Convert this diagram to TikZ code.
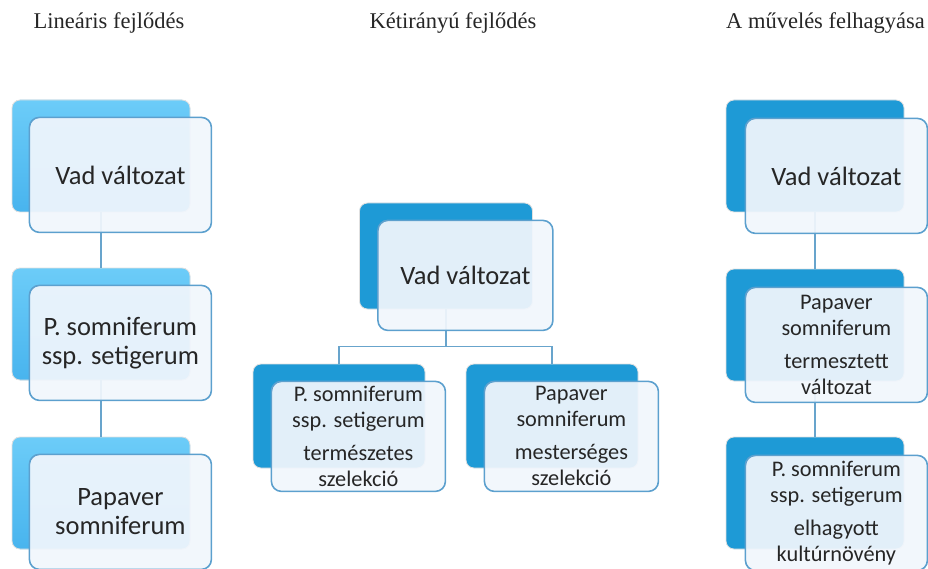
\documentclass[tikz,border=0pt]{standalone}
\usepackage{fontspec}
\setmainfont{Liberation Serif}
\setsansfont{Carlito}
\usetikzlibrary{positioning,calc}
\definecolor{kekSotet}{RGB}{30,154,214}
\definecolor{kekFelso}{RGB}{108,204,248}
\definecolor{kekAlso}{RGB}{72,180,238}
\definecolor{keretKek}{RGB}{92,160,206}
\definecolor{lapSzin}{RGB}{241,246,252}
\definecolor{vonalKek}{RGB}{104,164,204}
\tikzset{
  hatlap/.style={rectangle, draw=black!12, line width=0.8pt, fill=kekSotet,
                 rounded corners=8pt, minimum width=178pt, minimum height=112pt},
  hatlapvil/.style={hatlap, top color=kekFelso, bottom color=kekAlso},
  lap/.style={rectangle, draw=keretKek, line width=1.6pt, fill=lapSzin,
              fill opacity=0.93, text opacity=1, rounded corners=10pt,
              minimum width=182pt, minimum height=115pt, inner sep=1pt,
              align=center, text=black!85,
              font=\sffamily\fontsize{26.5}{29}\selectfont},
  kislap/.style={lap, font=\sffamily\fontsize{22.3}{26}\selectfont},
  cim/.style={font=\fontsize{22.5}{26}\selectfont, text=black!85},
  vonal/.style={draw=vonalKek, line width=1.5pt},
}
\begin{document}
\begin{tikzpicture}[x=1pt, y=-1pt]
  \useasboundingbox (0,0) rectangle (928,569);
  % cimek
  \node[cim] (cimBal) at (109,23) {Lineáris fejlődés};
  \node[cim] (cimKozep) at (453,23) {Kétirányú fejlődés};
  \node[cim, anchor=east, inner sep=1pt] (cimJobb) at (926,23) {A művelés felhagyása};

  % lineáris fejlődés
  \node[hatlapvil] (bal1h) at (101,156) {};
  \node[hatlapvil] (bal2h) at (101,324) {};
  \node[hatlapvil] (bal3h) at (101,493) {};
  \draw[vonal] (bal1h.south) -- (bal2h.north);
  \draw[vonal] (bal2h.south) -- (bal3h.north);
  \node[lap, anchor=north west] (bal1) at ([shift={(17,17)}]bal1h.north west) {Vad változat};
  \node[lap, anchor=north west] (bal2) at ([shift={(17,17)}]bal2h.north west) {P. somniferum\\ssp. setigerum};
  \node[lap, anchor=north west] (bal3) at ([shift={(17,17)}]bal3h.north west) {Papaver\\somniferum};

  % kétirányú fejlődés
  \node[hatlap, minimum width=173pt, minimum height=106pt] (koz0h) at (446,256) {};
  \node[hatlap, minimum width=172pt, minimum height=104pt] (koz1h) at (339,416) {};
  \node[hatlap, minimum width=172pt, minimum height=104pt] (koz2h) at (552,416) {};
  \draw[vonal] (koz0h.south) -- ++(0,37) coordinate (elag);
  \draw[vonal] (koz1h.north) |- (elag) -| (koz2h.north);
  \node[lap, anchor=north west, minimum width=175pt, minimum height=110pt]
    (koz0) at ([shift={(18,17)}]koz0h.north west) {Vad változat};
  \node[kislap, anchor=north west, minimum width=174pt, minimum height=110pt]
    (koz1) at ([shift={(18,17)}]koz1h.north west) {P. somniferum\\ssp. setigerum\\[7pt]természetes\\szelekció};
  \node[kislap, anchor=north west, minimum width=174pt, minimum height=110pt]
    (koz2) at ([shift={(18,17)}]koz2h.north west) {Papaver\\somniferum\\[7pt]mesterséges\\szelekció};

  % a művelés felhagyása
  \node[hatlap] (jobb1h) at (815,156) {};
  \node[hatlap] (jobb2h) at (815,325) {};
  \node[hatlap] (jobb3h) at (815,493) {};
  \draw[vonal] (jobb1h.south) -- (jobb2h.north);
  \draw[vonal] (jobb2h.south) -- (jobb3h.north);
  \node[lap, anchor=north west] (jobb1) at ([shift={(19,18)}]jobb1h.north west) {Vad változat};
  \node[kislap, anchor=north west] (jobb2) at ([shift={(19,18)}]jobb2h.north west) {Papaver\\somniferum\\[7pt]termesztett\\változat};
  \node[kislap, anchor=north west] (jobb3) at ([shift={(19,18)}]jobb3h.north west) {P. somniferum\\ssp. setigerum\\[7pt]elhagyott\\kultúrnövény};
\end{tikzpicture}
\end{document}
